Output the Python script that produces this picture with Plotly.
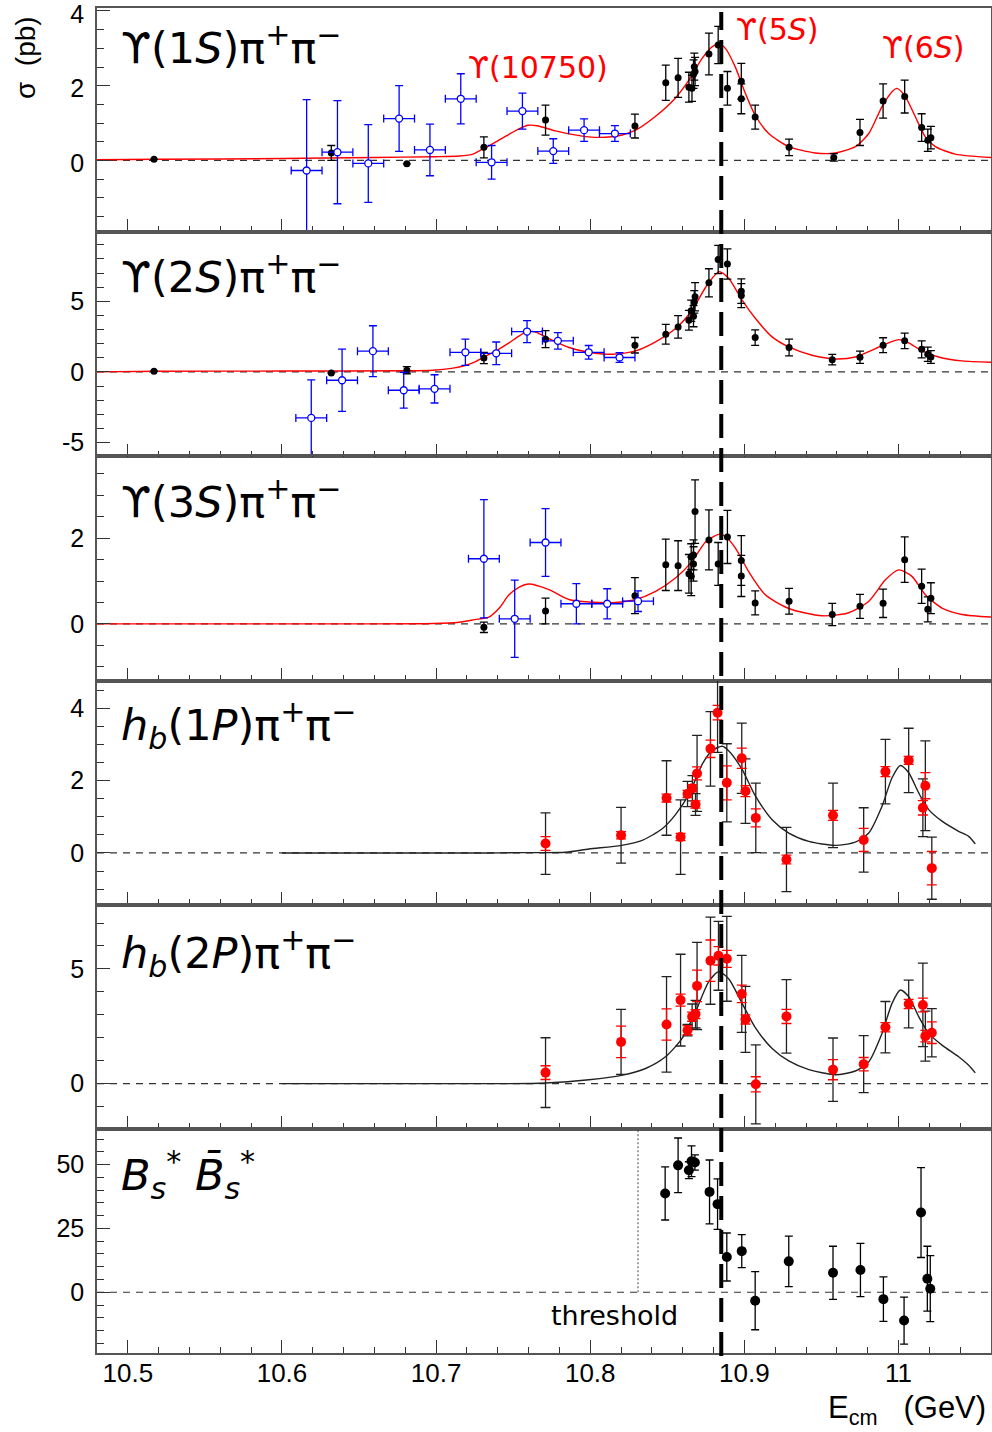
import plotly.graph_objects as go
from plotly.subplots import make_subplots

# ---------------- DATA ----------------
E_5S = 10.885
E_THR = 10.831

# Panel 1: Upsilon(1S) pi pi
p1_x = [10.517, 10.632, 10.681, 10.731, 10.771, 10.829, 10.849, 10.857, 10.864, 10.866, 10.867, 10.8675, 10.868,
        10.877, 10.883, 10.889, 10.898, 10.898, 10.907, 10.929, 10.958, 10.975, 10.990, 11.004, 11.015, 11.019, 11.021]
p1_y = [0.03, 0.20, -0.09, 0.35, 1.08, 0.92, 2.08, 2.21, 1.96, 1.93, 2.31, 2.51, 2.38,
        2.85, 3.09, 1.93, 2.12, 1.65, 1.16, 0.35, 0.08, 0.75, 1.59, 1.71, 0.88, 0.54, 0.61]
p1_e = [None, 0.20, None, 0.28, 0.40, 0.32, 0.47, 0.52, 0.40, 0.35, 0.38, 0.36, 0.38,
        0.56, 0.50, 0.45, 0.48, 0.40, 0.32, 0.22, 0.10, 0.35, 0.46, 0.44, 0.37, 0.30, 0.30]
p1_isr_x = [10.616, 10.636, 10.656, 10.676, 10.696, 10.716, 10.736, 10.756, 10.776, 10.796, 10.816]
p1_isr_y = [-0.27, 0.22, -0.08, 1.12, 0.28, 1.65, -0.05, 1.32, 0.25, 0.81, 0.72]
p1_isr_e = [1.90, 1.38, 1.04, 0.88, 0.69, 0.67, 0.45, 0.48, 0.33, 0.30, 0.21]
p1_isr_xe = [0.01] * 11
p1_fit_x = [10.48, 10.52, 10.60, 10.66, 10.70, 10.715, 10.724, 10.730, 10.7343, 10.741, 10.7473, 10.7545,
            10.7598, 10.7655, 10.7775, 10.789, 10.799, 10.81, 10.8207, 10.8294, 10.842, 10.855, 10.864,
            10.8726, 10.879, 10.8834, 10.8877, 10.894, 10.9007, 10.907, 10.9158, 10.9288, 10.946, 10.959,
            10.972, 10.9807, 10.9893, 10.9958, 10.999, 11.0044, 11.0109, 11.0174, 11.0239, 11.0368, 11.06]
p1_fit_y = [0.02, 0.03, 0.05, 0.08, 0.10, 0.12, 0.17, 0.30, 0.39, 0.55, 0.70, 0.86,
            0.94, 0.93, 0.79, 0.69, 0.63, 0.62, 0.68, 0.81, 1.17, 1.66, 2.15,
            2.73, 3.04, 3.12, 3.00, 2.51, 1.79, 1.21, 0.72, 0.37, 0.20, 0.20,
            0.37, 0.72, 1.44, 1.84, 1.93, 1.71, 1.17, 0.63, 0.37, 0.17, 0.08]

# Panel 2: Upsilon(2S) pi pi
p2_x = [10.517, 10.632, 10.681, 10.731, 10.771, 10.829, 10.849, 10.857, 10.864, 10.8655, 10.867, 10.8675, 10.868,
        10.877, 10.883, 10.889, 10.898, 10.898, 10.907, 10.929, 10.957, 10.975, 10.990, 11.004, 11.015, 11.019, 11.021]
p2_y = [0.05, -0.07, 0.12, 0.99, 2.32, 1.89, 2.67, 3.19, 3.66, 4.33, 3.95, 4.96, 5.32,
        6.31, 7.97, 7.64, 5.72, 5.41, 2.43, 1.73, 0.87, 1.04, 1.89, 2.20, 1.60, 1.25, 1.06]
p2_e = [None, None, 0.25, 0.40, 0.60, 0.55, 0.70, 0.80, 0.70, 0.75, 0.75, 0.80, 1.00,
        1.00, 1.00, 1.07, 0.87, 0.85, 0.55, 0.60, 0.37, 0.43, 0.53, 0.55, 0.60, 0.50, 0.45]
p2_isr_x = [10.619, 10.639, 10.659, 10.679, 10.699, 10.719, 10.739, 10.759, 10.779, 10.799, 10.819]
p2_isr_y = [-3.26, -0.59, 1.47, -1.30, -1.20, 1.39, 1.32, 2.86, 2.20, 1.39, 1.02]
p2_isr_e = [2.70, 2.20, 1.80, 1.27, 1.00, 0.93, 0.80, 0.78, 0.58, 0.48, 0.35]
p2_isr_xe = [0.01] * 11
p2_fit_x = [10.48, 10.52, 10.60, 10.68, 10.698, 10.71, 10.7193, 10.726, 10.732, 10.7405, 10.7473, 10.754,
            10.7592, 10.765, 10.771, 10.7862, 10.7991, 10.8143, 10.8294, 10.8424, 10.8553, 10.8661, 10.8748,
            10.8834, 10.8899, 10.8985, 10.9072, 10.918, 10.9288, 10.9439, 10.959, 10.972, 10.985, 10.9936,
            11.0001, 11.0066, 11.0152, 11.026, 11.0412, 11.06]
p2_fit_y = [0.0, 0.05, 0.06, 0.08, 0.12, 0.25, 0.47, 0.75, 1.10, 1.60, 2.06, 2.55,
            2.88, 2.80, 2.48, 1.73, 1.39, 1.25, 1.49, 2.13, 3.07, 4.37, 5.98,
            7.09, 6.62, 5.08, 3.78, 2.48, 1.77, 1.18, 0.92, 1.06, 1.65, 2.06,
            2.29, 2.06, 1.49, 1.06, 0.78, 0.69]

# Panel 3: Upsilon(3S) pi pi
p3_x = [10.731, 10.771, 10.829, 10.849, 10.857, 10.864, 10.8655, 10.8655, 10.867, 10.867, 10.868, 10.877, 10.883,
        10.889, 10.898, 10.898, 10.907, 10.929, 10.957, 10.975, 10.990, 11.004, 11.015, 11.019, 11.021]
p3_y = [-0.08, 0.30, 0.66, 1.38, 1.36, 1.17, 1.11, 1.57, 1.61, 1.40, 2.62, 1.96, 1.40,
        2.03, 1.48, 1.12, 0.49, 0.53, 0.22, 0.41, 0.48, 1.50, 0.88, 0.34, 0.60]
p3_e = [0.12, 0.30, 0.42, 0.60, 0.58, 0.45, 0.45, 0.30, 0.35, 0.40, 0.74, 0.70, 0.50,
        0.62, 0.58, 0.48, 0.28, 0.30, 0.26, 0.28, 0.33, 0.53, 0.40, 0.29, 0.36]
p3_isr_x = [10.731, 10.751, 10.771, 10.791, 10.811, 10.831]
p3_isr_y = [1.52, 0.12, 1.90, 0.47, 0.47, 0.53]
p3_isr_e = [1.38, 0.90, 0.79, 0.47, 0.35, 0.24]
p3_isr_xe = [0.01] * 6
p3_fit_x = [10.48, 10.60, 10.698, 10.715, 10.725, 10.7343, 10.741, 10.7473, 10.754, 10.7603, 10.7732, 10.7862,
            10.7991, 10.8164, 10.8294, 10.8424, 10.8553, 10.8661, 10.8748, 10.8834, 10.8877, 10.8942, 10.9028,
            10.9136, 10.9288, 10.9504, 10.9677, 10.9807, 10.9915, 11.0001, 11.0087, 11.0174, 11.0282, 11.0412,
            11.06]
p3_fit_y = [0.0, 0.0, 0.01, 0.04, 0.10, 0.16, 0.37, 0.68, 0.86, 0.93, 0.80, 0.57,
            0.51, 0.50, 0.57, 0.76, 1.07, 1.46, 1.91, 2.09, 2.04, 1.77, 1.22,
            0.68, 0.36, 0.19, 0.26, 0.53, 1.03, 1.26, 1.11, 0.68, 0.37, 0.22,
            0.16]

# Panel 4: hb(1P) pi pi
p4_x = [10.771, 10.820, 10.8495, 10.8586, 10.8631, 10.8663, 10.8683, 10.8693, 10.878, 10.8826, 10.8886,
        10.8983, 10.9007, 10.9074, 10.9273, 10.9575, 10.9774, 10.9915, 11.0066, 11.0158, 11.0174, 11.0216]
p4_y = [0.26, 0.49, 1.52, 0.44, 1.63, 1.79, 1.34, 2.20, 2.88, 3.88, 1.94,
        2.62, 1.71, 0.97, -0.18, 1.04, 0.36, 2.25, 2.56, 1.25, 1.86, -0.42]
p4_tot = [0.85, 0.77, 1.03, 1.03, 0.35, 0.35, 0.30, 1.05, 1.03, 1.10, 1.08,
          0.97, 0.89, 0.96, 0.89, 0.89, 0.89, 0.89, 0.89, 0.80, 1.24, 0.86]
p4_stat = [0.19, 0.10, 0.11, 0.10, 0.10, 0.10, 0.10, 0.18, 0.24, 0.20, 0.47,
           0.28, 0.15, 0.25, 0.12, 0.14, 0.32, 0.14, 0.11, 0.20, 0.36, 0.46]
p4_fit_x = [10.60, 10.7343, 10.7559, 10.784, 10.7991, 10.8203, 10.8337, 10.8467, 10.8553, 10.864, 10.8726,
            10.879, 10.8856, 10.8899, 10.8985, 10.9072, 10.918, 10.9288, 10.9418, 10.959, 10.972, 10.9807,
            10.9893, 10.9958, 11.0012, 11.0066, 11.0131, 11.0196, 11.0282, 11.039, 11.0455, 11.0498]
p4_fit_y = [0.0, 0.0, 0.01, 0.02, 0.11, 0.21, 0.35, 0.67, 1.06, 1.62, 2.45,
            2.83, 2.95, 2.82, 2.31, 1.57, 0.92, 0.55, 0.32, 0.21, 0.30, 0.55,
            1.29, 2.08, 2.42, 2.22, 1.66, 1.20, 0.88, 0.60, 0.46, 0.25]

# Panel 5: hb(2P) pi pi
p5_x = [10.771, 10.820, 10.8495, 10.8586, 10.8631, 10.8661, 10.8683, 10.8693, 10.878, 10.8832, 10.8886,
        10.8983, 10.9007, 10.9074, 10.9273, 10.9575, 10.9774, 10.9915, 11.0066, 11.0158, 11.0174, 11.0216]
p5_y = [0.48, 1.82, 2.58, 3.64, 2.33, 2.92, 3.03, 4.26, 5.36, 5.57, 5.44,
        3.91, 2.80, -0.03, 2.93, 0.61, 0.85, 2.46, 3.47, 3.43, 2.07, 2.22]
p5_tot = [1.52, 1.42, 2.08, 2.00, 0.25, 0.55, 0.60, 1.90, 1.90, 1.50, 1.85,
          1.68, 1.44, 1.72, 1.60, 1.38, 1.24, 1.12, 1.04, 1.82, 1.09, 1.05]
p5_stat = [0.30, 0.69, 0.68, 0.26, 0.20, 0.20, 0.20, 0.69, 0.90, 0.40, 0.37,
           0.38, 0.20, 0.33, 0.31, 0.44, 0.29, 0.20, 0.20, 0.30, 0.25, 0.47]
p5_fit_x = [10.60, 10.7473, 10.771, 10.7991, 10.8203, 10.8359, 10.8488, 10.8596, 10.8683, 10.8769, 10.8834,
            10.8899, 10.8985, 10.9072, 10.918, 10.9288, 10.9418, 10.959, 10.972, 10.9807, 10.9893, 10.9958,
            11.0012, 11.0066, 11.0131, 11.0196, 11.0282, 11.039, 11.0455, 11.0498]
p5_fit_y = [0.0, 0.0, 0.03, 0.17, 0.36, 0.66, 1.17, 1.97, 3.13, 4.45, 4.88,
            4.56, 3.50, 2.43, 1.53, 0.99, 0.61, 0.39, 0.55, 0.95, 2.19, 3.50,
            4.08, 3.79, 2.92, 2.19, 1.68, 1.17, 0.80, 0.47]

# Panel 6: Bs* anti-Bs*
p6_x = [10.8486, 10.857, 10.864, 10.8657, 10.8679, 10.8774, 10.8826, 10.8886, 10.8983, 10.907, 10.9288,
        10.9575, 10.9753, 10.9902, 11.0036, 11.0146, 11.0187, 11.0206]
p6_y = [38.7, 49.7, 47.8, 51.3, 50.8, 39.3, 34.5, 13.8, 16.1, -3.3, 12.1,
        7.6, 8.7, -2.7, -11.1, 31.2, 5.3, 1.4]
p6_e = [10.4, 10.7, 3.3, 6.0, 3.0, 12.5, 9.9, 9.4, 6.5, 11.4, 9.9,
        10.4, 10.4, 8.7, 9.2, 17.6, 12.7, 12.9]

# axis settings per panel
y_ranges = [[-1.92, 4.08], [-5.98, 9.9], [-1.32, 3.91], [-1.43, 4.77], [-1.97, 7.8], [-23.8, 64]]
y_tickvals = [[0, 2, 4], [-5, 0, 5], [0, 2], [0, 2, 4], [0, 5], [0, 25, 50]]
y_ticktext = [["0", "2", "4"], ["-5", "0", "5"], ["0", "2"], ["0", "2", "4"], ["0", "5"], ["0", "25", "50"]]
y_minor = [0.5, 1, 0.5, 0.5, 1, 5]
x_tickvals = [10.5, 10.6, 10.7, 10.8, 10.9, 11.0]
x_ticktext = ["10.5", "10.6", "10.7", "10.8", "10.9", "11"]
panel_labels = [
    "ϒ(1<i>S</i>)π<sup>+</sup>π<sup>−</sup>",
    "ϒ(2<i>S</i>)π<sup>+</sup>π<sup>−</sup>",
    "ϒ(3<i>S</i>)π<sup>+</sup>π<sup>−</sup>",
    "<i>h</i><sub><i>b</i></sub>(1<i>P</i>)π<sup>+</sup>π<sup>−</sup>",
    "<i>h</i><sub><i>b</i></sub>(2<i>P</i>)π<sup>+</sup>π<sup>−</sup>",
    "<i>B</i><sub><i>s</i></sub><sup>*</sup> <i>B̄</i><sub><i>s</i></sub><sup>*</sup>",
]
peak_labels = ["ϒ(10750)", "ϒ(5<i>S</i>)", "ϒ(6<i>S</i>)"]

# ---------------- FIGURE ----------------
W, H = 992, 1432
ML, MR, MT, MB = 97, 1, 8, 79
PW, PH = W - ML - MR, H - MT - MB


def pxx(p):
    return (p - ML) / PW


def pxy(p):
    return (H - MB - p) / PH


fig = make_subplots(rows=6, cols=1, shared_xaxes=True, vertical_spacing=0)

RED = "#ff0000"
BLUE = "#0000ff"
LABEL_FONT = "DejaVu Sans"
NUM_FONT = "Liberation Sans"


def add_fit(row, x, y, color):
    fig.add_trace(go.Scatter(x=x, y=y, mode="lines",
                             line=dict(color=color, width=1.4, shape="spline", smoothing=0.7),
                             showlegend=False, hoverinfo="skip"), row=row, col=1)


def add_black(row, x, y, e, size=7):
    fig.add_trace(go.Scatter(x=x, y=y, mode="markers",
                             marker=dict(color="black", size=size),
                             error_y=dict(type="data", array=e, color="black", thickness=1.3, width=4),
                             showlegend=False), row=row, col=1)


def add_isr(row, x, y, e, xe):
    fig.add_trace(go.Scatter(x=x, y=y, mode="markers",
                             marker=dict(color="white", size=7, line=dict(color=BLUE, width=1.3)),
                             error_y=dict(type="data", array=e, color=BLUE, thickness=1.3, width=4),
                             error_x=dict(type="data", array=xe, color=BLUE, thickness=1.3, width=4),
                             showlegend=False), row=row, col=1)


def add_hb(row, x, y, tot, stat):
    fig.add_trace(go.Scatter(x=x, y=y, mode="markers",
                             marker=dict(color="rgba(0,0,0,0)", size=10),
                             error_y=dict(type="data", array=tot, color="#222", thickness=1.3, width=5),
                             showlegend=False), row=row, col=1)
    fig.add_trace(go.Scatter(x=x, y=y, mode="markers",
                             marker=dict(color=RED, size=10),
                             error_y=dict(type="data", array=stat, color=RED, thickness=1.3, width=5),
                             showlegend=False), row=row, col=1)


# panel 1
add_fit(1, p1_fit_x, p1_fit_y, RED)
add_black(1, p1_x, p1_y, p1_e)
add_isr(1, p1_isr_x, p1_isr_y, p1_isr_e, p1_isr_xe)
# panel 2
add_fit(2, p2_fit_x, p2_fit_y, RED)
add_black(2, p2_x, p2_y, p2_e)
add_isr(2, p2_isr_x, p2_isr_y, p2_isr_e, p2_isr_xe)
# panel 3
add_fit(3, p3_fit_x, p3_fit_y, RED)
add_black(3, p3_x, p3_y, p3_e)
add_isr(3, p3_isr_x, p3_isr_y, p3_isr_e, p3_isr_xe)
# panel 4
add_fit(4, p4_fit_x, p4_fit_y, "#222")
add_hb(4, p4_x, p4_y, p4_tot, p4_stat)
# panel 5
add_fit(5, p5_fit_x, p5_fit_y, "#222")
add_hb(5, p5_x, p5_y, p5_tot, p5_stat)
# panel 6
add_black(6, p6_x, p6_y, p6_e, size=10)

# axes
fig.update_xaxes(range=[10.48, 11.06], showline=True, mirror=True, linecolor="#555", linewidth=1.5,
                 ticks="inside", ticklen=13, tickwidth=1.2, tickcolor="#333",
                 tickmode="array", tickvals=x_tickvals, ticktext=x_ticktext,
                 minor=dict(tickmode="linear", dtick=0.02, tick0=10.5, ticklen=6, ticks="inside",
                            tickcolor="#333", tickwidth=1.2),
                 showgrid=False, zeroline=False, ticklabelstandoff=-4, automargin=False,
                 tickfont=dict(family=NUM_FONT, size=26, color="black"))
for i in range(6):
    fig.update_yaxes(range=y_ranges[i], tickmode="array", tickvals=y_tickvals[i], ticktext=y_ticktext[i],
                     showline=True, mirror=True,
                     linecolor="#555", linewidth=1.5, ticks="inside", ticklen=13, tickwidth=1.2,
                     tickcolor="#333",
                     minor=dict(tickmode="linear", dtick=y_minor[i], tick0=0, ticklen=7, ticks="inside",
                                tickcolor="#333", tickwidth=1.2),
                     showgrid=False, zeroline=False, ticklabelstandoff=6, ticklabeloverflow="allow",
                     ticklabelshift=(3 if i == 0 else 0),
                     automargin=False,
                     tickfont=dict(family=NUM_FONT, size=25, color="black"),
                     row=i + 1, col=1)

shapes = []
for i in range(6):
    xr = "x" if i == 0 else f"x{i+1}"
    yr = "y" if i == 0 else f"y{i+1}"
    shapes.append(dict(type="line", xref=xr, yref=yr, x0=10.48, x1=11.06, y0=0, y1=0,
                       line=dict(color="#333", width=1.2, dash="7px,6px"), layer="below"))
# threshold dotted line
shapes.append(dict(type="line", xref="x6", yref="y6", x0=E_THR, x1=E_THR, y0=0, y1=y_ranges[5][1],
                   line=dict(color="#444", width=1, dash="2px,2px")))
# Upsilon(5S) thick dashed line
shapes.append(dict(type="line", xref="x6", yref="paper", x0=E_5S, x1=E_5S, y0=pxy(1356), y1=pxy(12),
                   line=dict(color="black", width=4, dash="24px,10px")))

annotations = []
centers = [45, 274, 499, 725, 953, 1175]
for lab, cy in zip(panel_labels, centers):
    annotations.append(dict(text=lab, xref="paper", yref="paper", x=pxx(119), y=pxy(cy),
                            xanchor="left", yanchor="middle", showarrow=False,
                            font=dict(family=LABEL_FONT, size=43, color="black")))
peak_pos = [(538, 67), (777, 30), (923, 48)]
for lab, (cx, cy) in zip(peak_labels, peak_pos):
    annotations.append(dict(text=lab, xref="paper", yref="paper", x=pxx(cx), y=pxy(cy),
                            xanchor="center", yanchor="middle", showarrow=False,
                            font=dict(family=LABEL_FONT, size=30, color=RED)))
annotations.append(dict(text="threshold", xref="paper", yref="paper", x=pxx(614), y=pxy(1315),
                        xanchor="center", yanchor="middle", showarrow=False,
                        font=dict(family=LABEL_FONT, size=27, color="black")))
annotations.append(dict(text="σ  (pb)", xref="paper", yref="paper", x=pxx(25), y=pxy(58),
                        xanchor="center", yanchor="middle", textangle=-90, showarrow=False,
                        font=dict(family=NUM_FONT, size=28, color="black")))
annotations.append(dict(text="E<sub>cm</sub>   (GeV)", xref="paper", yref="paper", x=pxx(988), y=pxy(1410),
                        xanchor="right", yanchor="middle", showarrow=False,
                        font=dict(family=NUM_FONT, size=31, color="black")))

fig.update_layout(width=W, height=H, margin=dict(l=ML, r=MR, t=MT, b=MB, autoexpand=False),
                  paper_bgcolor="white", plot_bgcolor="white", showlegend=False,
                  shapes=shapes, annotations=annotations)

fig.write_html("out.html")
